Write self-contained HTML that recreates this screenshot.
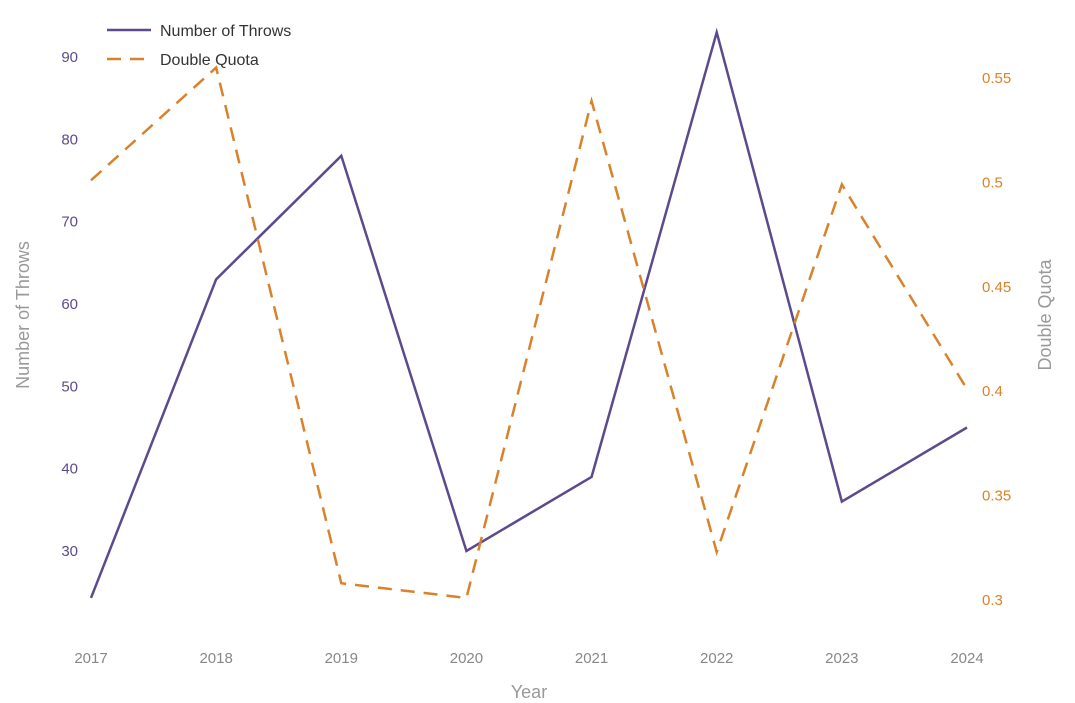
<!DOCTYPE html>
<html><head><meta charset="utf-8"><style>
html,body{margin:0;padding:0;background:#fff;}
svg{display:block;font-family:"Liberation Sans",sans-serif;}
</style></head><body>
<svg id="chart" width="1075" height="703"></svg>
<script>
const years=[2017,2018,2019,2020,2021,2022,2023,2024];
const throws=[24.3,63,78,30,39,93,36,45];
const quota=[0.501,0.555,0.308,0.301,0.539,0.323,0.499,0.401];
const leftTicks=[30,40,50,60,70,80,90];
const rightTicks=[0.3,0.35,0.4,0.45,0.5,0.55];
const rightTickLabels=["0.3","0.35","0.4","0.45","0.5","0.55"];

const NS="http://www.w3.org/2000/svg";
const svg=document.getElementById('chart');
const x=i=>91+i*(967-91)/(years.length-1);
const yL=v=>551-(v-30)*(551-57)/60;
const yR=v=>600-(v-0.3)*(600-78)/0.25;
function mk(tag,attrs,txt){const e=document.createElementNS(NS,tag);for(const k in attrs)e.setAttribute(k,attrs[k]);if(txt!=null)e.textContent=txt;svg.appendChild(e);return e;}

leftTicks.forEach(v=>{
  const t=mk('text',{x:78,y:yL(v)+5,'text-anchor':'end','font-size':15,fill:'#5c4a8c'},v);
  
  
});
rightTicks.forEach((v,i)=>{
  const t=mk('text',{x:982,y:yR(v)+5,'text-anchor':'start','font-size':15,fill:'#d9822b'},rightTickLabels[i]);
  
  
});
years.forEach((yr,i)=>{
  const t=mk('text',{x:x(i),y:663,'text-anchor':'middle','font-size':15,fill:'#888'},yr);
  
  
});
let t=mk('text',{x:529,y:698,'text-anchor':'middle','font-size':18,fill:'#999'},'Year');


t=mk('text',{x:0,y:0,'text-anchor':'middle','font-size':18,fill:'#999',transform:'translate(29,315) rotate(-90)'},'Number of Throws');


t=mk('text',{x:0,y:0,'text-anchor':'middle','font-size':18,fill:'#999',transform:'translate(1051,315) rotate(-90)'},'Double Quota');



let p=mk('polyline',{points:throws.map((v,i)=>x(i)+','+yL(v)).join(' '),fill:'none',stroke:'#5c4a8c','stroke-width':2.5});


p=mk('polyline',{points:quota.map((v,i)=>x(i)+','+yR(v)).join(' '),fill:'none',stroke:'#d9822b','stroke-width':2.5,'stroke-dasharray':'14,9'});



let l=mk('line',{x1:107,y1:30,x2:151,y2:30,stroke:'#5c4a8c','stroke-width':2.5});


t=mk('text',{x:160,y:36,'font-size':16,fill:'#333'},'Number of Throws');


l=mk('line',{x1:107,y1:59,x2:151,y2:59,stroke:'#d9822b','stroke-width':2.5,'stroke-dasharray':'14,9'});


t=mk('text',{x:160,y:65,'font-size':16,fill:'#333'},'Double Quota');


</script>
</body></html>
